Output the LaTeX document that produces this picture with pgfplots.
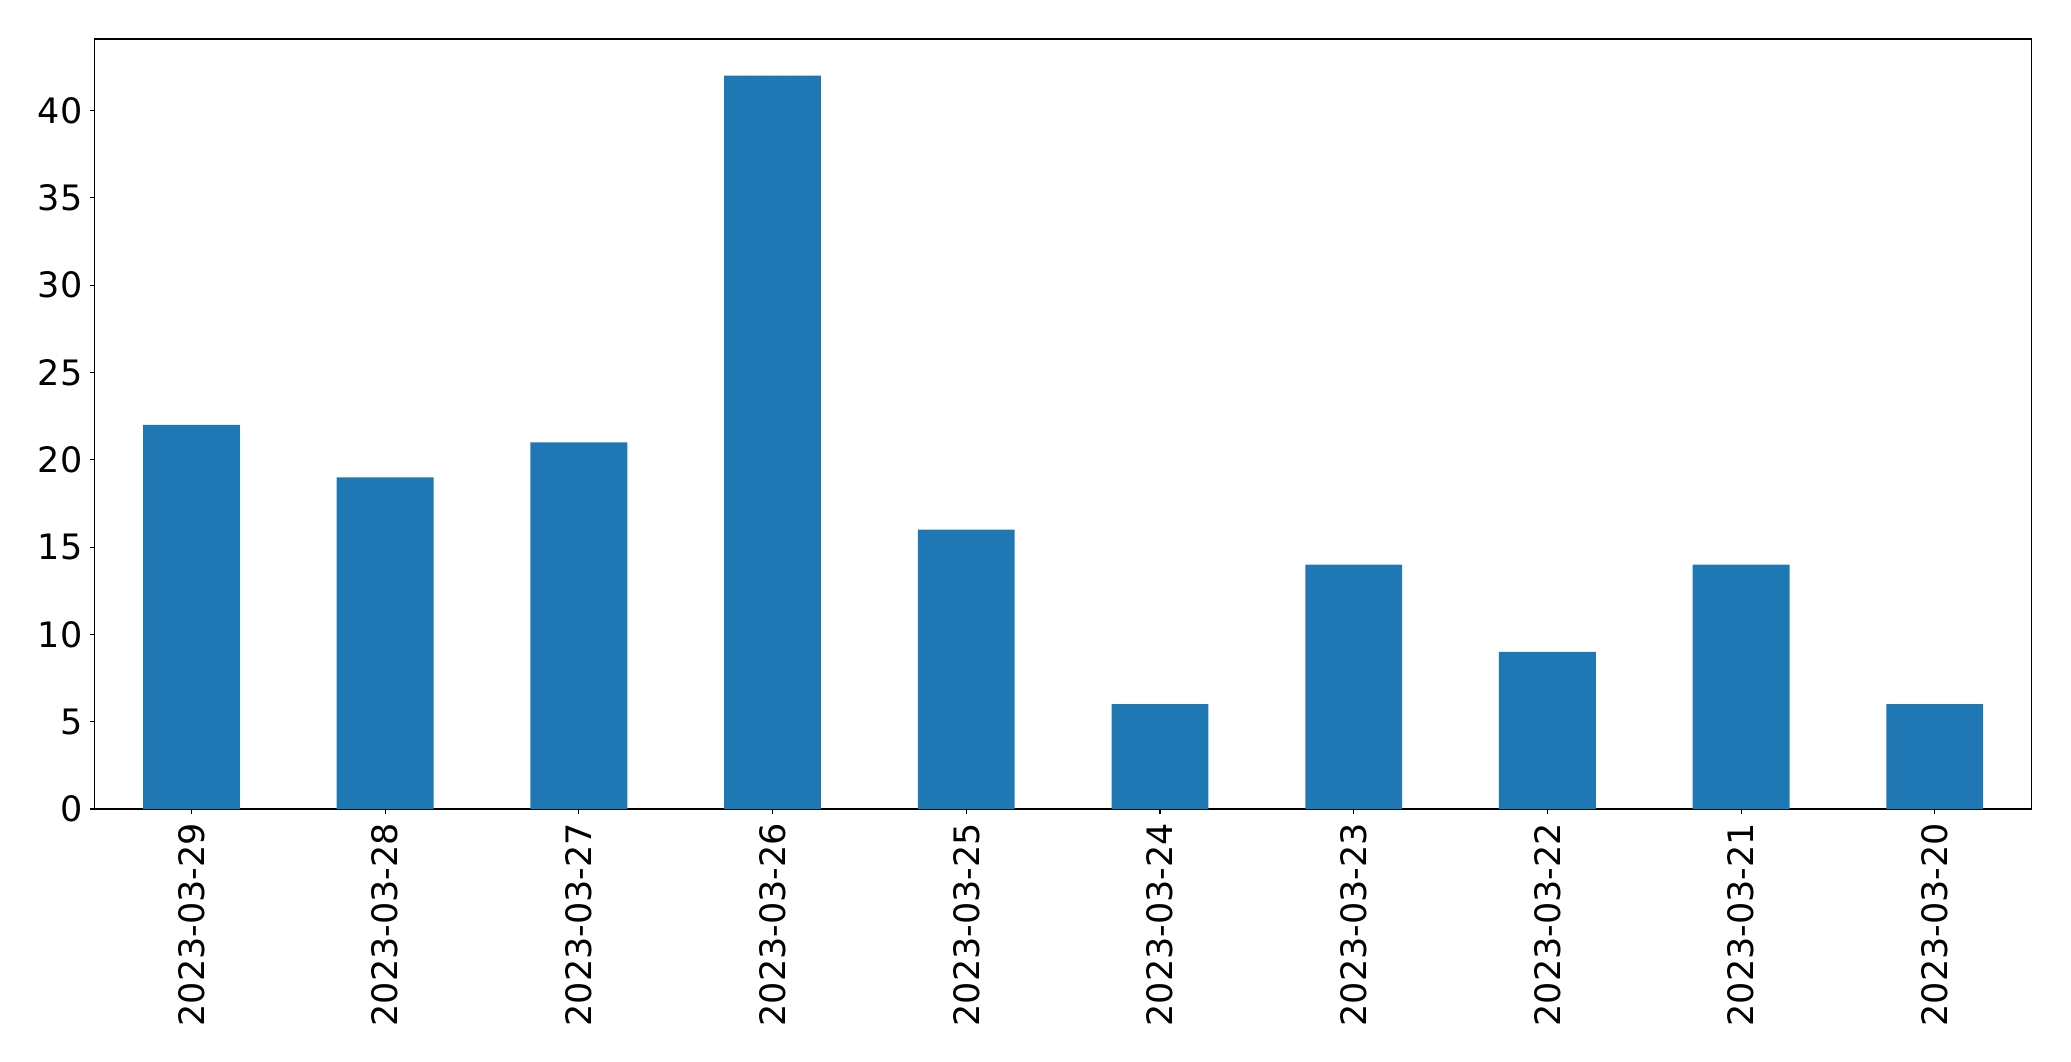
\documentclass[border=0pt]{standalone}
\usepackage{pgfplots}
\pgfplotsset{compat=1.18}
\usepackage{fontspec}
\setmainfont{DejaVu Sans}
\definecolor{barblue}{HTML}{1F77B4}
\begin{document}
\begin{tikzpicture}
\path[use as bounding box] (0,0) rectangle (1035.5pt,530.5pt);
\begin{axis}[
  at={(47.3pt,126pt)}, anchor=south west,
  scale only axis, width=968.5pt, height=385pt,
  xmin=-0.5, xmax=9.5, ymin=0, ymax=44.1,
  xtick={0,1,2,3,4,5,6,7,8,9},
  xticklabels={2023-03-29,2023-03-28,2023-03-27,2023-03-26,2023-03-25,2023-03-24,2023-03-23,2023-03-22,2023-03-21,2023-03-20},
  x tick label style={rotate=90, anchor=east, xshift=-1pt},
  ytick={0,5,10,15,20,25,30,35,40},
  tick align=outside, major tick length=2.5pt,
  xtick pos=lower, ytick pos=left,
  tick style={black, line width=0.55pt},
  axis line style={line width=0.55pt},
  tick label style={font=\fontsize{17.5}{20}\selectfont},
  /pgf/number format/assume math mode=true,
]
\addplot[ybar, bar width=0.5, fill=barblue, draw=none] coordinates {
(0,22) (1,19) (2,21) (3,42) (4,16) (5,6) (6,14) (7,9) (8,14) (9,6)
};
\end{axis}
\end{tikzpicture}
\end{document}
